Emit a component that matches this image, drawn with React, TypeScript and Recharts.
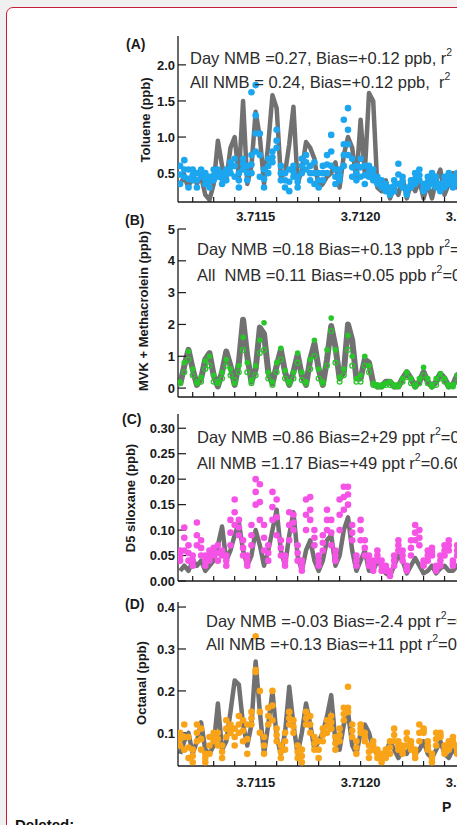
import React from "react";
import { ComposedChart, Line, Scatter, XAxis, YAxis } from "recharts";

// time axis (x 10^10 s), one value every 0.00002
const times = [
  3.71114, 3.71116, 3.71118, 3.7112, 3.71122, 3.71124, 3.71126, 3.71128, 3.7113, 3.71132,
  3.71134, 3.71136, 3.71138, 3.7114, 3.71142, 3.71144, 3.71146, 3.71148, 3.7115, 3.71152,
  3.71154, 3.71156, 3.71158, 3.7116, 3.71162, 3.71164, 3.71166, 3.71168, 3.7117, 3.71172,
  3.71174, 3.71176, 3.71178, 3.7118, 3.71182, 3.71184, 3.71186, 3.71188, 3.7119, 3.71192,
  3.71194, 3.71196, 3.71198, 3.712, 3.71202, 3.71204, 3.71206, 3.71208, 3.7121, 3.71212,
  3.71214, 3.71216, 3.71218, 3.7122, 3.71222, 3.71224, 3.71226, 3.71228, 3.7123, 3.71232,
  3.71234, 3.71236, 3.71238, 3.7124, 3.71242, 3.71244, 3.71246, 3.71248,
];

const xTicks = [
  3.7112, 3.7113, 3.7114, 3.7115, 3.7116, 3.7117, 3.7118, 3.7119, 3.712,
  3.7121, 3.7122, 3.7123, 3.7124, 3.7125, 3.7126, 3.7127, 3.7128, 3.7129,
];
const X_DOMAIN: [number, number] = [3.71113, 3.71295];

// (A) toluene
const tolueneModel = [
  0.35, 0.45, 0.3, 0.5, 0.35, 0.45, 0.2, 0.13, 0.35, 0.95,
  0.6, 0.4, 0.85, 1.0, 0.45, 1.5, 0.35, 0.6, 1.35, 1.0,
  0.35, 0.9, 1.58, 1.4, 0.45, 0.5, 0.9, 1.42, 0.35, 0.55,
  0.93, 0.85, 0.7, 0.3, 0.35, 0.45, 0.5, 0.65, 0.3, 0.75,
  1.0, 0.85, 0.4, 1.24, 0.5, 1.61, 1.5, 0.3, 0.25, 0.4,
  0.15, 0.3, 0.2, 0.45, 0.15, 0.35, 0.25, 0.4, 0.15, 0.35,
  0.15, 0.4, 0.55, 0.2, 0.35, 0.5, 0.3, 0.4,
];
const tolueneObsLow = [
  0.35, 0.45, 0.3, 0.4, 0.3, 0.45, 0.35, 0.3, 0.4, 0.45,
  0.35, 0.4, 0.5, 0.45, 0.3, 0.55, 0.4, 0.5, 0.8, 0.45,
  0.3, 0.5, 0.65, 0.85, 0.4, 0.3, 0.25, 0.45, 0.3, 0.5,
  0.55, 0.4, 0.35, 0.3, 0.4, 0.5, 0.6, 0.35, 0.4, 0.6,
  0.75, 0.45, 0.4, 0.45, 0.35, 0.45, 0.4, 0.35, 0.3, 0.25,
  0.2, 0.25, 0.35, 0.3, 0.2, 0.3, 0.35, 0.4, 0.25, 0.3,
  0.35, 0.3, 0.25, 0.3, 0.35, 0.3, 0.35, 0.3,
];
const tolueneObsMid = [
  0.48, 0.55, 0.42, 0.47, 0.4, 0.5, 0.42, 0.38, 0.47, 0.5,
  0.43, 0.48, 0.58, 0.6, 0.4, 0.63, 0.5, 0.62, 1.05, 0.75,
  0.42, 0.6, 0.72, 0.95, 0.5, 0.4, 0.38, 0.52, 0.38, 0.6,
  0.65, 0.5, 0.5, 0.4, 0.5, 0.62, 0.8, 0.45, 0.47, 0.75,
  0.9, 0.58, 0.5, 0.58, 0.47, 0.52, 0.47, 0.4, 0.35, 0.3,
  0.25, 0.32, 0.48, 0.38, 0.25, 0.35, 0.42, 0.47, 0.3, 0.38,
  0.42, 0.38, 0.3, 0.38, 0.42, 0.38, 0.42, 0.38,
];
const tolueneObsHigh = [
  0.6, 0.68, 0.55, 0.55, 0.5, 0.55, 0.5, 0.45, 0.55, 0.55,
  0.5, 0.55, 0.65, 0.7, 0.5, 0.7, 0.6, 0.75, 1.3, 1.05,
  0.55, 0.7, 0.8, 1.1, 0.6, 0.5, 0.55, 0.6, 0.45, 0.7,
  0.75, 0.6, 0.65, 0.5, 0.6, 0.75, 1.03, 0.55, 0.55, 0.9,
  1.1, 0.7, 0.6, 0.7, 0.6, 0.6, 0.55, 0.45, 0.4, 0.35,
  0.3, 0.4, 0.63, 0.45, 0.3, 0.4, 0.5, 0.55, 0.35, 0.45,
  0.5, 0.45, 0.35, 0.45, 0.5, 0.45, 0.5, 0.45,
];
const tolueneObsPeak = [
  null, null, null, null, null, null, null, null, null, null,
  null, null, null, null, null, null, null, 1.62, 1.72, null,
  null, null, null, null, null, null, null, null, null, null,
  null, null, null, null, null, null, null, null, null, 1.24,
  1.4, null, null, null, null, null, null, null, null, null,
  null, null, null, null, null, null, null, null, null, null,
  null, null, null, null, null, null, null, null,
];

// (B) MVK + methacrolein
const mvkModel = [
  0.1, 0.7, 1.2, 0.6, 0.1, 0.3, 0.9, 1.1, 0.4, 0.05,
  0.5, 1.15, 0.7, 0.1, 0.8, 2.15, 1.0, 0.2, 0.6, 1.9,
  1.7, 0.5, 0.15, 0.7, 1.2, 0.5, 0.1, 0.5, 1.05, 0.4,
  0.1, 0.9, 1.4, 0.6, 0.1, 0.9, 1.95, 1.3, 0.3, 0.5,
  2.0, 1.5, 0.3, 0.3, 0.9, 0.8, 0.15, 0.05, 0.05, 0.2,
  0.2, 0.05, 0.05, 0.3, 0.5, 0.3, 0.05, 0.2, 0.5, 0.2,
  0.05, 0.2, 0.45, 0.3, 0.05, 0.1, 0.4, 0.5,
];
const mvkObs = [
  0.2, 0.8, 1.15, 0.6, 0.15, 0.35, 0.85, 1.0, 0.4, 0.15,
  0.5, 0.9, 0.6, 0.15, 0.7, 1.6, 0.8, 0.25, 0.7, 1.5,
  2.05, 0.5, 0.2, 0.8, 1.25, 0.55, 0.2, 0.5, 1.1, 0.5,
  0.2, 0.9, 1.5, 0.6, 0.2, 1.2, 2.2, 1.2, 0.35, 0.6,
  1.65, 1.0, 0.3, 0.4, 1.0, 0.7, 0.15, 0.1, 0.1, 0.15,
  0.2, 0.1, 0.05, 0.3, 0.5, 0.3, 0.1, 0.3, 0.65, 0.3,
  0.1, 0.3, 0.45, 0.3, 0.1, 0.1, 0.4, 0.5,
];
const mvkObs2 = [
  0.15, 0.5, 0.9, 0.4, 0.2, 0.2, 0.6, 0.7, 0.2, 0.2,
  0.3, 0.7, 0.4, 0.25, 0.5, 1.2, 0.5, 0.15, 0.4, 1.1,
  1.2, 0.3, 0.1, 0.5, 0.9, 0.3, 0.15, 0.3, 0.8, 0.25,
  0.15, 0.6, 1.0, 0.3, 0.15, 0.7, 1.8, 0.8, 0.2, 0.4,
  1.2, 0.7, 0.2, 0.2, 0.7, 0.5, 0.1, 0.05, 0.05, 0.1,
  0.1, 0.05, 0.1, 0.2, 0.35, 0.15, 0.05, 0.15, 0.4, 0.15,
  0.05, 0.1, 0.3, 0.2, 0.05, 0.05, 0.2, 0.3,
];

// (C) D5 siloxane
const d5Model = [
  0.02, 0.03, 0.02, 0.04, 0.03, 0.04, 0.02, 0.03, 0.04, 0.07,
  0.107, 0.04, 0.06, 0.09, 0.115, 0.06, 0.03, 0.05, 0.1, 0.07,
  0.03, 0.06, 0.1, 0.14, 0.06, 0.03, 0.09, 0.135, 0.05, 0.02,
  0.06, 0.08, 0.04, 0.02, 0.04, 0.08, 0.09, 0.03, 0.05, 0.1,
  0.125, 0.06, 0.02, 0.04, 0.06, 0.02, 0.02, 0.04, 0.03, 0.015,
  0.01, 0.03, 0.05, 0.04, 0.015, 0.03, 0.045, 0.03, 0.015, 0.02,
  0.03, 0.015, 0.025, 0.03, 0.02, 0.02, 0.03, 0.02,
];
const d5ObsLow = [
  0.04, 0.06, 0.04, 0.03, 0.07, 0.05, 0.03, 0.04, 0.05, 0.04,
  0.05, 0.03, 0.07, 0.11, 0.09, 0.05, 0.03, 0.07, 0.15, 0.12,
  0.06, 0.04, 0.12, 0.09, 0.05, 0.03, 0.08, 0.1, 0.04, 0.02,
  0.1, 0.12, 0.07, 0.03, 0.06, 0.1, 0.07, 0.04, 0.1, 0.14,
  0.15, 0.08, 0.03, 0.08, 0.05, 0.03, 0.02, 0.04, 0.02, 0.02,
  0.01, 0.03, 0.06, 0.04, 0.02, 0.05, 0.08, 0.07, 0.03, 0.04,
  0.05, 0.02, 0.03, 0.05, 0.06, 0.03, 0.05, 0.04,
];
const d5ObsMid = [
  0.05, 0.085, 0.055, 0.04, 0.09, 0.065, 0.04, 0.05, 0.057, 0.055,
  0.055, 0.04, 0.095, 0.135, 0.105, 0.065, 0.04, 0.09, 0.175, 0.155,
  0.085, 0.055, 0.145, 0.125, 0.065, 0.04, 0.11, 0.115, 0.055, 0.03,
  0.13, 0.14, 0.085, 0.04, 0.075, 0.12, 0.095, 0.05, 0.13, 0.165,
  0.17, 0.095, 0.04, 0.1, 0.065, 0.04, 0.03, 0.05, 0.03, 0.025,
  0.015, 0.04, 0.07, 0.05, 0.025, 0.065, 0.095, 0.085, 0.035, 0.05,
  0.057, 0.025, 0.04, 0.06, 0.07, 0.035, 0.06, 0.05,
];
const d5ObsHigh = [
  0.06, 0.105, 0.07, 0.05, 0.115, 0.08, 0.05, 0.06, 0.065, 0.07,
  0.06, 0.05, 0.12, 0.16, 0.12, 0.08, 0.05, 0.11, 0.2, 0.19,
  0.11, 0.07, 0.175, 0.16, 0.08, 0.05, 0.135, 0.13, 0.07, 0.04,
  0.16, 0.165, 0.1, 0.05, 0.09, 0.14, 0.12, 0.06, 0.16, 0.185,
  0.185, 0.11, 0.05, 0.12, 0.08, 0.05, 0.04, 0.06, 0.04, 0.03,
  0.02, 0.05, 0.08, 0.06, 0.03, 0.08, 0.11, 0.1, 0.04, 0.06,
  0.065, 0.03, 0.05, 0.07, 0.08, 0.04, 0.07, 0.06,
];

// (D) octanal
const octanalModel = [
  0.05, 0.08, 0.1, 0.05, 0.08, 0.125, 0.06, 0.05, 0.07, 0.17,
  0.06, 0.08, 0.15, 0.225, 0.215, 0.12, 0.07, 0.12, 0.27, 0.15,
  0.05, 0.12, 0.2, 0.09, 0.05, 0.1, 0.21, 0.12, 0.05, 0.1,
  0.17, 0.12, 0.06, 0.08, 0.1, 0.14, 0.19, 0.08, 0.06, 0.12,
  0.15, 0.07, 0.05, 0.1, 0.12, 0.1, 0.06, 0.05, 0.04, 0.05,
  0.08, 0.06, 0.04, 0.06, 0.05, 0.07, 0.05, 0.06, 0.08, 0.05,
  0.04, 0.06, 0.08, 0.05, 0.04, 0.06, 0.05, 0.06,
];
const octanalObsLow = [
  0.07, 0.06, 0.04, 0.03, 0.08, 0.06, 0.03, 0.05, 0.08, 0.07,
  0.04, 0.09, 0.1, 0.07, 0.1, 0.08, 0.05, 0.12, 0.25, 0.1,
  0.05, 0.12, 0.13, 0.08, 0.04, 0.06, 0.12, 0.1, 0.04, 0.03,
  0.12, 0.1, 0.06, 0.04, 0.08, 0.1, 0.11, 0.06, 0.08, 0.13,
  0.15, 0.09, 0.05, 0.1, 0.08, 0.04, 0.06, 0.04, 0.03, 0.04,
  0.05, 0.08, 0.06, 0.05, 0.07, 0.06, 0.04, 0.08, 0.1, 0.06,
  0.03, 0.07, 0.09, 0.05, 0.06, 0.07, 0.05, 0.06,
];
const octanalObsMid = [
  0.085, 0.09, 0.065, 0.045, 0.1, 0.085, 0.04, 0.07, 0.09, 0.085,
  0.055, 0.11, 0.11, 0.09, 0.12, 0.105, 0.085, 0.135, 0.245, 0.15,
  0.07, 0.14, 0.165, 0.095, 0.055, 0.08, 0.135, 0.115, 0.055, 0.045,
  0.135, 0.12, 0.075, 0.06, 0.095, 0.115, 0.125, 0.075, 0.095, 0.145,
  0.16, 0.105, 0.065, 0.11, 0.09, 0.055, 0.07, 0.05, 0.04, 0.05,
  0.065, 0.095, 0.07, 0.06, 0.085, 0.07, 0.05, 0.1, 0.105, 0.07,
  0.04, 0.085, 0.095, 0.06, 0.07, 0.08, 0.06, 0.07,
];
const octanalObsHigh = [
  0.1, 0.12, 0.09, 0.06, 0.12, 0.11, 0.05, 0.09, 0.1, 0.1,
  0.07, 0.13, 0.12, 0.11, 0.14, 0.13, 0.12, 0.15, 0.33, 0.2,
  0.09, 0.16, 0.2, 0.11, 0.07, 0.1, 0.15, 0.13, 0.07, 0.06,
  0.15, 0.14, 0.09, 0.08, 0.11, 0.13, 0.14, 0.09, 0.11, 0.16,
  0.21, 0.12, 0.08, 0.12, 0.1, 0.07, 0.08, 0.06, 0.05, 0.06,
  0.08, 0.11, 0.08, 0.07, 0.1, 0.08, 0.06, 0.12, 0.11, 0.08,
  0.05, 0.1, 0.1, 0.07, 0.08, 0.09, 0.07, 0.08,
];

const FONT = '"Liberation Sans", Arial, Helvetica, sans-serif';
const AXIS = "#1a1a1a";
const MODEL = "#717171";
const CHART_W = 560;
const PLOT_LEFT = 178;
const TOP_PAD = 10;
const TICK_FS = 13;

type Obs = { values: (number | null)[]; color: string; r: number; hollow?: boolean };

type PanelProps = {
  top: number;
  plotH: number;
  xAxisH: number;
  labelMargin: number;
  showLabels: boolean;
  yDomain: [number, number];
  yTicks: number[];
  yFmt: (v: number) => string;
  model: number[];
  modelWidth: number;
  obs: Obs[];
};

function xLabel(v: number) {
  const k = Math.round(v * 10000);
  return k % 5 === 0 ? (k / 10000).toFixed(4) : "";
}

function makeTick(fmt: (v: number) => string, side: "left" | "bottom") {
  return (props: any) => {
    const label = fmt(props.payload.value);
    if (!label) return <g />;
    return (
      <text
        x={props.x}
        y={props.y}
        dy={side === "left" ? TICK_FS * 0.36 : TICK_FS * 0.72}
        textAnchor={side === "left" ? "end" : "middle"}
        fontSize={TICK_FS}
        fontWeight={700}
        fill={AXIS}
        fontFamily={FONT}
      >
        {label}
      </text>
    );
  };
}

function Panel(p: PanelProps) {
  const rows = times.map((t, i) => ({ t, model: p.model[i] }));
  const line = { stroke: AXIS, strokeWidth: 1.3 };
  const tickLine = { stroke: AXIS, strokeWidth: 1.2 };
  return (
    <div style={{ position: "absolute", left: 0, top: p.top - TOP_PAD }}>
      <ComposedChart
        width={CHART_W}
        height={p.plotH + TOP_PAD + p.xAxisH}
        data={rows}
        margin={{ top: TOP_PAD, right: 0, bottom: 0, left: 0 }}
      >
        <XAxis
          xAxisId="top"
          orientation="top"
          type="number"
          dataKey="t"
          domain={X_DOMAIN}
          allowDataOverflow
          ticks={xTicks}
          interval={0}
          height={0}
          tickSize={-5}
          tick={false}
          axisLine={line}
          tickLine={tickLine}
        />
        <XAxis
          type="number"
          dataKey="t"
          domain={X_DOMAIN}
          allowDataOverflow
          ticks={xTicks}
          interval={0}
          height={p.xAxisH}
          tickSize={-5}
          tickMargin={p.labelMargin}
          tick={makeTick(p.showLabels ? xLabel : () => "", "bottom")}
          axisLine={line}
          tickLine={tickLine}
        />
        <YAxis
          type="number"
          width={PLOT_LEFT}
          domain={p.yDomain}
          allowDataOverflow
          ticks={p.yTicks}
          interval={0}
          tickSize={-8}
          tickMargin={11}
          tick={makeTick(p.yFmt, "left")}
          axisLine={line}
          tickLine={tickLine}
        />
        <Line
          dataKey="model"
          type="linear"
          stroke={MODEL}
          strokeWidth={p.modelWidth}
          strokeLinejoin="round"
          dot={false}
          isAnimationActive={false}
        />
        {p.obs.map((o, k) => (
          <Scatter
            key={k}
            data={times
              .map((t, i) => ({ t, v: o.values[i] }))
              .filter((d) => d.v !== null && d.v !== undefined)}
            dataKey="v"
            isAnimationActive={false}
            shape={(s: any) =>
              o.hollow ? (
                <circle cx={s.cx} cy={s.cy} r={o.r} fill="none" stroke={o.color} strokeWidth={1.3} />
              ) : (
                <circle cx={s.cx} cy={s.cy} r={o.r} fill={o.color} />
              )
            }
          />
        ))}
      </ComposedChart>
    </div>
  );
}

function Sup({ s, after }: { s: string; after?: string }) {
  return (
    <>
      <tspan dy={-8} fontSize={10.5}>
        {s}
      </tspan>
      {after ? <tspan dy={8}>{after}</tspan> : null}
    </>
  );
}

const BLUE = "#1ca6ef";
const GREEN = "#28c628";
const PINK = "#f552e6";
const ORANGE = "#f9a418";

export default function App() {
  const note = { fontSize: 16.5, fill: "#2b2b2b", fontFamily: FONT };
  const yLab = { fontSize: 13, fontWeight: 700, fill: AXIS, fontFamily: FONT, textAnchor: "middle" as const };
  const tag = { fontSize: 14, fontWeight: 700, fill: AXIS, fontFamily: FONT };
  return (
    <div
      style={{
        position: "fixed",
        left: 0,
        top: 0,
        width: 457,
        height: 825,
        overflow: "hidden",
        background: "#f0f0f0",
      }}
    >
      <div
        style={{
          position: "absolute",
          left: 6,
          top: 7,
          width: 700,
          height: 1000,
          background: "#fff",
          border: "1.5px solid #c81e3c",
          borderRadius: 7,
        }}
      />
      <Panel
        top={36}
        plotH={166}
        xAxisH={30}
        labelMargin={15}
        showLabels
        yDomain={[0.1, 2.4]}
        yTicks={[0.5, 1.0, 1.5, 2.0]}
        yFmt={(v) => v.toFixed(1)}
        model={tolueneModel}
        modelWidth={4.5}
        obs={[
          { values: tolueneObsLow, color: BLUE, r: 3.3 },
          { values: tolueneObsMid, color: BLUE, r: 3.3 },
          { values: tolueneObsHigh, color: BLUE, r: 3.3 },
          { values: tolueneObsPeak, color: BLUE, r: 3.3 },
        ]}
      />
      <Panel
        top={229}
        plotH={168}
        xAxisH={12}
        labelMargin={10}
        showLabels={false}
        yDomain={[-0.28, 5]}
        yTicks={[0, 1, 2, 3, 4, 5]}
        yFmt={(v) => String(v)}
        model={mvkModel}
        modelWidth={6}
        obs={[
          { values: mvkObs2, color: GREEN, r: 2.4, hollow: true },
          { values: mvkObs, color: GREEN, r: 2.8 },
        ]}
      />
      <Panel
        top={414}
        plotH={167}
        xAxisH={12}
        labelMargin={10}
        showLabels={false}
        yDomain={[0, 0.328]}
        yTicks={[0, 0.05, 0.1, 0.15, 0.2, 0.25, 0.3]}
        yFmt={(v) => v.toFixed(2)}
        model={d5Model}
        modelWidth={4.5}
        obs={[
          { values: d5ObsLow, color: PINK, r: 3.3 },
          { values: d5ObsMid, color: PINK, r: 3.3 },
          { values: d5ObsHigh, color: PINK, r: 3.3 },
        ]}
      />
      <Panel
        top={602}
        plotH={164}
        xAxisH={30}
        labelMargin={17}
        showLabels
        yDomain={[0.021, 0.412]}
        yTicks={[0.1, 0.2, 0.3, 0.4]}
        yFmt={(v) => v.toFixed(1)}
        model={octanalModel}
        modelWidth={4.5}
        obs={[
          { values: octanalObsLow, color: ORANGE, r: 3.3 },
          { values: octanalObsMid, color: ORANGE, r: 3.3 },
          { values: octanalObsHigh, color: ORANGE, r: 3.3 },
        ]}
      />
      <svg
        width={457}
        height={825}
        style={{ position: "absolute", left: 0, top: 0, pointerEvents: "none" }}
      >
        <text x={126} y={49} {...tag}>(A)</text>
        <text x={125} y={225} {...tag}>(B)</text>
        <text x={122} y={424} {...tag}>(C)</text>
        <text x={125} y={609} {...tag}>(D)</text>

        <text x={145} y={120} dominantBaseline="central" transform="rotate(-90 145 120)" {...yLab}>
          Toluene (ppb)
        </text>
        <text x={143} y={311} dominantBaseline="central" transform="rotate(-90 143 311)" {...yLab}>
          MVK + Methacrolein (ppb)
        </text>
        <text x={130} y={498} dominantBaseline="central" transform="rotate(-90 130 498)" {...yLab}>
          D5 siloxane (ppb)
        </text>
        <text x={141} y={683} dominantBaseline="central" transform="rotate(-90 141 683)" {...yLab}>
          Octanal (ppb)
        </text>

        <text x={190} y={64} {...note}>
          Day NMB =0.27, Bias=+0.12 ppb, r<Sup s="2" />
        </text>
        <text x={190} y={88} {...note}>
          All NMB = 0.24, Bias=+0.12 ppb,{"\u00a0"} r<Sup s="2" />
        </text>
        <text x={197} y={255} {...note}>
          Day NMB =0.18 Bias=+0.13 ppb r<Sup s="2" after="=" />
        </text>
        <text x={197} y={281} {...note}>
          All{"\u00a0"} NMB =0.11 Bias=+0.05 ppb r<Sup s="2" after="=0" />
        </text>
        <text x={197} y={443} {...note}>
          Day NMB =0.86 Bias=2+29 ppt r<Sup s="2" after="=0" />
        </text>
        <text x={197} y={469} {...note}>
          All NMB =1.17 Bias=+49 ppt r<Sup s="2" after="=0.60" />
        </text>
        <text x={206} y={627} {...note}>
          Day NMB =-0.03 Bias=-2.4 ppt r<Sup s="2" after="=0" />
        </text>
        <text x={206} y={650} {...note}>
          All NMB =+0.13 Bias=+11 ppt r<Sup s="2" after="=0." />
        </text>

        <text x={442} y={812} {...tag}>P</text>
        <text x={15} y={830} fontSize={15} fontWeight={700} fill="#111" fontFamily={FONT}>
          Deleted:
        </text>
      </svg>
    </div>
  );
}
